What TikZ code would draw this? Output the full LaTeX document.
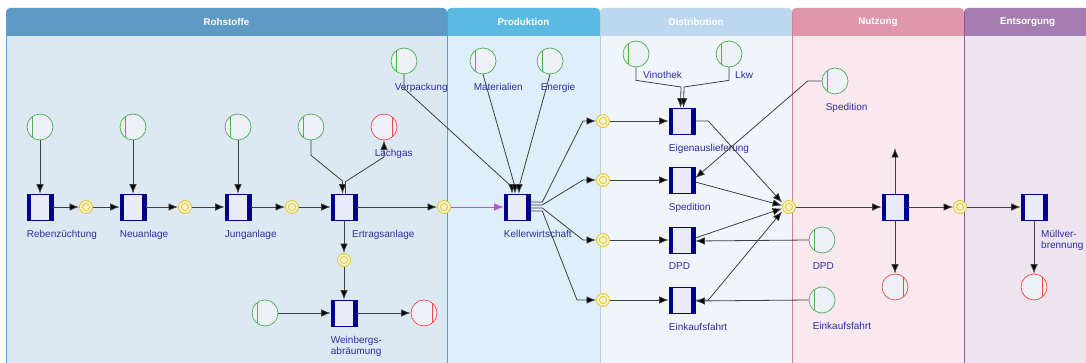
\documentclass[tikz,border=0pt]{standalone}
\usepackage{fontspec}
\setmainfont{Liberation Sans}
\usepackage{tikz}
\usetikzlibrary{arrows.meta,positioning}

\definecolor{rohHead}{HTML}{5E9AC6}
\definecolor{rohBody}{HTML}{DDE9F2}
\definecolor{rohLine}{HTML}{5B9FD4}
\definecolor{proHead}{HTML}{5CB9E2}
\definecolor{proBody}{HTML}{DEEFF9}
\definecolor{proLine}{HTML}{3DAAE0}
\definecolor{disHead}{HTML}{BDD7EE}
\definecolor{disBody}{HTML}{F0F5FB}
\definecolor{disLine}{HTML}{B5D1EC}
\definecolor{nutHead}{HTML}{E097AB}
\definecolor{nutBody}{HTML}{F9E8EE}
\definecolor{nutLine}{HTML}{D77F99}
\definecolor{entHead}{HTML}{A57EB1}
\definecolor{entBody}{HTML}{EDE4F0}
\definecolor{entLine}{HTML}{8E5A9E}
\definecolor{transBlue}{HTML}{00008B}
\definecolor{transFill}{HTML}{E9ECF8}
\definecolor{nodeFill}{HTML}{EEF0F8}
\definecolor{srcGreen}{HTML}{4CAF50}
\definecolor{sinkRed}{HTML}{F04848}
\definecolor{placeYellow}{HTML}{E2CC3A}
\definecolor{placeFill}{HTML}{F6F2D0}
\definecolor{lblBlue}{HTML}{2E2EA0}
\definecolor{lineGray}{HTML}{404040}
\definecolor{kelPurple}{HTML}{B458C8}

\begin{document}
\begin{tikzpicture}[x=1pt,y=-1pt]
      \tikzstyle{trans}=[rectangle,draw=transBlue,line width=0.6pt,fill=transFill,minimum size=26pt,inner sep=0pt,
        path picture={\fill[transBlue] (path picture bounding box.north west) rectangle ([xshift=4pt]path picture bounding box.south west);
                      \fill[transBlue] (path picture bounding box.north east) rectangle ([xshift=-4pt]path picture bounding box.south east);}]
      \tikzstyle{src}=[circle,draw=srcGreen,line width=0.7pt,fill=nodeFill,minimum size=26pt,inner sep=0pt,
        path picture={\draw[srcGreen,line width=1pt] ([xshift=-8pt]path picture bounding box.north) -- ([xshift=-8pt]path picture bounding box.south);}]
      \tikzstyle{sink}=[circle,draw=sinkRed,line width=0.7pt,fill=nodeFill,minimum size=26pt,inner sep=0pt,
        path picture={\draw[sinkRed,line width=1pt] ([xshift=8pt]path picture bounding box.north) -- ([xshift=8pt]path picture bounding box.south);}]
      \tikzstyle{place}=[circle,draw=placeYellow,line width=0.9pt,fill=placeFill,minimum size=13pt,inner sep=0pt,
        path picture={\draw[placeYellow,line width=0.9pt] (path picture bounding box.center) circle (3.6pt);}]
      \tikzstyle{lbl}=[inner sep=0pt,text=lblBlue,font=\fontsize{10}{11.5}\selectfont,align=left]
      \tikzstyle{title}=[inner sep=0pt,text=white,font=\fontsize{9.8}{11}\selectfont\bfseries]
      \tikzstyle{flow}=[draw=lineGray,line width=0.8pt,-{Latex[length=9.5pt,width=7.5pt,fill=black]}]

      \useasboundingbox (0,0) rectangle (1086,363);

      % lanes
      \fill[rohBody] (6,363) [rounded corners=4pt] -- (6,8) -- (447,8) [sharp corners] -- (447,363) -- cycle;
      \fill[rohHead] (6,36) [rounded corners=4pt] -- (6,8) -- (447,8) [sharp corners] -- (447,36) -- cycle;
      \draw[rohLine,line width=1pt] (6.5,363) -- (6.5,12);
      \fill[proBody] (447,363) [rounded corners=4pt] -- (447,8) -- (600,8) [sharp corners] -- (600,363) -- cycle;
      \fill[proHead] (447,36) [rounded corners=4pt] -- (447,8) -- (600,8) [sharp corners] -- (600,36) -- cycle;
      \draw[proLine,line width=1pt] (447.5,363) -- (447.5,12);
      \fill[disBody] (600,363) [rounded corners=4pt] -- (600,8) -- (792,8) [sharp corners] -- (792,363) -- cycle;
      \fill[disHead] (600,36) [rounded corners=4pt] -- (600,8) -- (792,8) [sharp corners] -- (792,36) -- cycle;
      \draw[disLine,line width=1pt] (600.5,363) -- (600.5,12);
      \fill[nutBody] (792,363) [rounded corners=4pt] -- (792,8) -- (964,8) [sharp corners] -- (964,363) -- cycle;
      \fill[nutHead] (792,36) [rounded corners=4pt] -- (792,8) -- (964,8) [sharp corners] -- (964,36) -- cycle;
      \draw[nutLine,line width=1pt] (792.5,363) -- (792.5,12);
      \fill[entBody] (964,363) [rounded corners=4pt] -- (964,8) -- (1092,8) [sharp corners] -- (1092,363) -- cycle;
      \fill[entHead] (964,36) [rounded corners=4pt] -- (964,8) -- (1092,8) [sharp corners] -- (1092,36) -- cycle;
      \draw[entLine,line width=1pt] (964.5,363) -- (964.5,12);

      \node[title] (tRoh) at (226.5,22) {Rohstoffe};
      \node[title] (tPro) at (523.5,22) {Produktion};
      \node[title] (tDis) at (696,22) {Distribution};
      \node[title] (tNut) at (878,22) {Nutzung};
      \node[title] (tEnt) at (1027.5,22) {Entsorgung};

      % Rohstoffe
      \node[trans] (reb) at (40,207) {};
      \node[trans] (neu) at (133,207) {};
      \node[trans] (jung) at (238,207) {};
      \node[trans] (ertrag) at (344,207) {};
      \node[trans] (wein) at (344,313) {};
      \node[place] (p1) at (86,207) {};
      \node[place] (p2) at (185,207) {};
      \node[place] (p3) at (292,207) {};
      \node[place] (p4) at (444,207) {};
      \node[place] (p5) at (344,260) {};
      \node[src] (srcReb) at (40,127) {};
      \node[src] (srcNeu) at (133,127) {};
      \node[src] (srcJung) at (238,127) {};
      \node[src] (srcErt) at (311,127) {};
      \node[sink] (lachgas) at (384,127) {};
      \node[src] (srcWein) at (265,313) {};
      \node[sink] (sinkWein) at (424,313) {};
      \node[src] (verp) at (404,61) {};

      \node[lbl,below right=9.5pt and 0pt of reb.south west] (lReb) {Rebenzüchtung};
      \node[lbl,below right=9.5pt and 0pt of neu.south west] (lNeu) {Neuanlage};
      \node[lbl,below right=9.5pt and 0pt of jung.south west] (lJung) {Junganlage};
      \node[lbl,below right=9.5pt and 8pt of ertrag.south] (lErt) {Ertragsanlage};
      \node[lbl,below right=9.5pt and 0pt of wein.south west] (lWein) {Weinbergs-\\abräumung};
      \node[lbl,below right=13pt and 0pt of lachgas.south west] (lLach) {Lachgas};
      \node[lbl,below right=13pt and 0pt of verp.south west] (lVerp) {Verpackung};

      \draw[flow] (srcReb) -- (reb);
      \draw[flow] (srcNeu) -- (neu);
      \draw[flow] (srcJung) -- (jung);
      \draw[flow] (reb) -- (p1);
      \draw[flow] (p1) -- (neu);
      \draw[flow] (neu) -- (p2);
      \draw[flow] (p2) -- (jung);
      \draw[flow] (jung) -- (p3);
      \draw[flow] (p3) -- (ertrag);
      \draw[flow] (ertrag) -- (p4);
      \draw[flow] (srcErt.south) -- ++(0,15) -- (342.5,181) -- ([xshift=-1.5pt]ertrag.north);
      \draw[flow] ([xshift=1.5pt]ertrag.north) -- ++(0,-12) -- (384,157) -- (lachgas.south);
      \draw[flow] (ertrag) -- (p5);
      \draw[flow] (p5) -- (wein);
      \draw[flow] (srcWein) -- (wein);
      \draw[flow] (wein) -- (sinkWein);

      % Produktion
      \node[trans] (kel) at (517,207) {};
      \node[src] (mat) at (483,61) {};
      \node[src] (energ) at (550,61) {};
      \node[lbl,below right=13pt and 0pt of mat.south west] (lMat) {Materialien};
      \node[lbl,below right=13pt and 0pt of energ.south west] (lEnerg) {Energie};
      \node[lbl,below right=9.5pt and 0pt of kel.south west] (lKel) {Kellerwirtschaft};

      \draw[flow,draw=kelPurple,-{Latex[length=9.5pt,width=7.5pt,fill=kelPurple]}] (p4) -- (kel);
      \draw[flow] (verp.south) -- ++(0,14) -- (512,187) -- ([xshift=-5pt]kel.north);
      \draw[flow] (mat.south) -- (515,187) -- ([xshift=-2pt]kel.north);
      \draw[flow] (energ.south) -- (519,187) -- ([xshift=2pt]kel.north);

      % Distribution
      \node[place] (d1) at (603,121) {};
      \node[place] (d2) at (603,180) {};
      \node[place] (d3) at (603,240) {};
      \node[place] (d4) at (603,300) {};
      \node[trans] (eig) at (682,121) {};
      \node[trans] (sped) at (682,180) {};
      \node[trans] (dpd) at (682,240) {};
      \node[trans] (ein) at (682,300) {};
      \node[src] (vino) at (636,54) {};
      \node[src] (lkw) at (729,54) {};
      \node[place] (pm) at (789,207) {};
      \node[lbl,below right=4pt and 7pt of vino.south] (lVino) {Vinothek};
      \node[lbl,below right=4pt and 6pt of lkw.south] (lLkw) {Lkw};
      \node[lbl,below right=9.5pt and 0pt of eig.south west] (lEig) {Eigenauslieferung};
      \node[lbl,below right=9.5pt and 0pt of sped.south west] (lSped) {Spedition};
      \node[lbl,below right=9.5pt and 0pt of dpd.south west] (lDpd) {DPD};
      \node[lbl,below right=9.5pt and 0pt of ein.south west] (lEin) {Einkaufsfahrt};

      \draw[flow] ([yshift=5pt]kel.east) -- ++(12,0) -- (583,121) -- (d1);
      \draw[flow] ([yshift=2pt]kel.east) -- ++(12,0) -- (583,180) -- (d2);
      \draw[flow] ([yshift=-1pt]kel.east) -- ++(12,0) -- (583,240) -- (d3);
      \draw[flow] ([yshift=-4pt]kel.east) -- ++(12,0) -- (577,300) -- (d4);
      \draw[flow] (d1) -- (eig);
      \draw[flow] (d2) -- (sped);
      \draw[flow] (d3) -- (dpd);
      \draw[flow] (d4) -- (ein);
      \draw[flow] (vino.south) -- ++(0,13) -- (681,87) -- ([xshift=-1.5pt]eig.north);
      \draw[flow] (lkw.south) -- ++(0,13) -- (684,87) -- ([xshift=1.5pt]eig.north);
      \draw[flow] (eig.east) -- ++(13,0) -- ([yshift=4.5pt]pm.west);
      \draw[flow] ([yshift=-2pt]sped.east) -- ([yshift=1.5pt]pm.west);
      \draw[flow] ([yshift=2pt]dpd.east) -- ([yshift=-1.5pt]pm.west);
      \draw[flow] (ein.east) -- ++(13,0) -- ([yshift=-4.5pt]pm.west);

      % Nutzung
      \node[src] (spedN) at (835,81) {};
      \node[src] (dpdN) at (822,240) {};
      \node[src] (einN) at (822,300) {};
      \node[trans] (nutz) at (895,207) {};
      \node[sink] (sinkNutz) at (895,287) {};
      \node[place] (p6) at (960,207) {};
      \coordinate (nutzOut) at (895,148);
      \node[lbl,below right=13pt and 0pt of spedN.south west] (lSpedN) {Spedition};
      \node[lbl,below right=13pt and 0pt of dpdN.south west] (lDpdN) {DPD};
      \node[lbl,below right=13pt and 0pt of einN.south west] (lEinN) {Einkaufsfahrt};

      \draw[flow] (spedN.west) -- ++(-14,0) -- ([yshift=2pt]sped.east);
      \draw[flow] (dpdN.west) -- ([yshift=-1pt]dpd.east);
      \draw[flow] (einN.west) -- ([yshift=-1pt]ein.east);
      \draw[flow] (pm) -- (nutz);
      \draw[flow] (nutz) -- (nutzOut);
      \draw[flow] (nutz) -- (sinkNutz);
      \draw[flow] (nutz) -- (p6);

      % Entsorgung
      \node[trans] (muell) at (1034,207) {};
      \node[sink] (sinkMuell) at (1034,287) {};
      \node[lbl,below right=9.5pt and 7pt of muell.south] (lMuell) {Müllver-\\brennung};

      \draw[flow] (p6) -- (muell);
      \draw[flow] (muell) -- (sinkMuell);
\end{tikzpicture}
\end{document}
